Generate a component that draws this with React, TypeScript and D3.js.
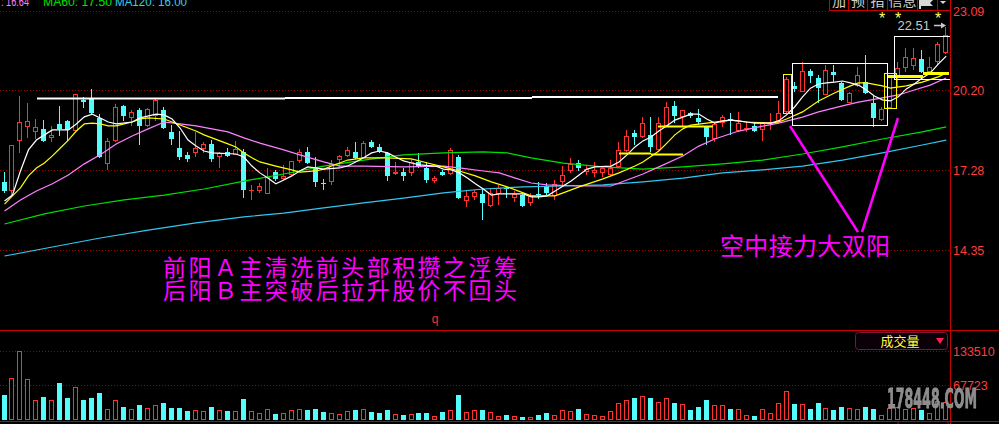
import React from 'react';
import * as d3 from 'd3';

// ---------- data ----------
const OPEN = [16.84,16.51,18.34,18.85,18.67,18.78,18.45,18.96,19.07,18.70,19.84,19.87,19.18,17.50,18.34,19.62,19.18,19.47,18.89,19.25,
19.47,18.67,18.08,17.83,17.90,18.04,18.23,17.75,17.94,17.83,17.94,16.51,16.51,16.40,17.20,16.95,17.09,17.61,17.94,17.39,
16.80,16.84,17.64,17.79,17.94,17.72,18.30,18.12,17.90,17.13,17.20,17.17,17.57,17.35,16.87,17.20,17.13,17.75,16.14,16.29,
16.40,15.96,16.40,16.62,16.25,16.36,16.07,16.40,16.69,16.33,16.84,17.24,17.53,17.20,17.17,17.17,17.09,17.39,17.97,18.63,
18.48,18.56,18.01,18.89,19.62,19.21,19.36,19.18,18.85,18.41,18.99,19.14,18.70,18.78,18.89,18.74,18.99,19.07,19.40,20.35,
20.13,20.90,20.64,20.02,20.86,20.46,19.73,20.35,20.49,19.73,19.10,19.54,20.64,21.01,21.08,21.33,20.86,21.23,21.55];
const HIGH = [17.20,18.20,19.98,19.73,19.14,19.10,18.89,19.62,19.10,20.07,19.95,20.24,19.32,18.45,19.69,19.64,19.47,19.54,19.54,19.87,
19.58,18.92,18.70,17.94,18.67,18.30,18.37,17.94,18.08,18.34,18.04,16.73,16.80,17.35,17.28,17.46,17.62,18.04,18.12,17.75,
16.95,17.64,17.83,18.12,18.30,18.34,18.37,18.23,17.94,17.57,17.35,17.68,17.90,17.57,17.06,17.28,18.08,17.83,16.51,16.55,
16.62,16.62,16.73,16.66,16.51,16.40,16.44,16.84,16.80,16.91,17.42,17.72,17.64,17.42,17.57,17.39,17.64,18.30,18.74,18.74,
19.21,19.21,19.21,19.76,19.80,19.47,19.40,19.51,18.89,19.03,19.29,19.36,19.40,19.03,19.03,19.03,19.36,19.80,20.68,20.49,
21.22,20.97,20.75,21.11,21.11,20.49,20.13,21.04,21.48,19.98,19.58,20.71,21.23,21.74,21.74,21.66,21.41,21.95,22.51];
const LOW = [16.44,16.36,17.90,18.45,18.41,18.30,18.30,18.52,18.34,18.67,19.54,19.34,17.72,17.28,18.30,19.07,18.89,18.19,18.85,19.07,
18.78,18.19,17.64,17.57,17.75,17.90,17.57,17.35,17.75,17.81,16.25,16.18,16.44,16.38,16.87,16.91,17.06,17.53,17.50,16.66,
16.55,16.73,17.39,17.75,17.68,17.70,18.08,17.90,16.87,17.09,16.87,17.06,17.35,16.80,16.80,17.06,17.09,16.22,15.92,16.18,
15.45,15.94,16.00,16.25,16.11,15.94,15.96,16.22,16.36,16.18,16.69,17.17,17.24,17.09,17.02,17.02,17.06,17.35,17.94,18.19,
18.45,17.94,17.97,18.85,18.99,18.85,19.18,18.92,18.19,18.30,18.85,18.56,18.67,18.67,18.67,18.34,18.74,18.99,19.36,20.13,
20.11,20.46,19.73,20.00,20.49,19.80,19.71,20.31,20.06,18.85,19.08,19.51,20.31,20.86,20.93,20.82,20.82,21.11,21.52];
const CLOSE = [16.51,18.19,19.03,19.07,18.85,18.34,18.56,18.78,18.74,20.06,19.76,19.36,17.75,18.34,19.58,19.25,19.40,18.89,19.51,19.84,
18.81,18.41,17.75,17.68,18.08,18.23,17.68,17.90,17.79,18.04,16.55,16.55,16.69,17.02,16.95,17.06,17.61,17.94,17.53,16.84,
16.77,17.50,17.79,18.01,17.72,18.26,18.12,17.94,17.06,17.20,17.06,17.57,17.39,16.91,16.98,17.09,18.01,16.25,16.33,16.47,
16.07,16.44,16.62,16.58,16.40,15.96,16.33,16.36,16.44,16.77,17.09,17.50,17.35,17.31,17.28,17.35,17.35,18.01,18.52,18.48,
19.00,18.12,19.00,19.58,19.25,19.47,19.25,19.03,18.48,18.96,19.21,19.10,18.99,18.81,18.70,18.99,19.03,19.36,20.60,20.24,
20.90,20.71,20.27,20.93,20.75,19.84,20.09,20.75,20.09,19.18,19.51,20.68,21.01,21.41,21.37,20.86,21.04,21.88,22.21];
const VOLUME = [48200,80800,133500,78900,39800,44300,37900,71600,42400,63200,38500,42400,52100,22300,37900,24800,22300,28700,24200,30100,
32600,22800,22800,17000,18900,18300,24800,20300,17000,18300,40400,18300,14400,22300,11100,14400,20300,22300,18900,20900,
15000,14400,12500,18300,18900,22300,15000,13100,18900,12500,9200,12500,13100,13100,8600,15000,18900,48200,15000,18900,
18900,15000,8600,9200,8600,6600,6600,9200,13100,10500,18900,17000,20900,12500,10500,8600,17000,32600,38500,42400,
45700,42400,34600,43700,32600,30600,18900,24800,38500,28700,28700,20900,22300,10500,7200,22300,13100,32600,56000,30600,
30600,20900,32600,24200,18900,24800,22800,20900,24800,20900,10500,22800,24800,20900,24200,18900,14400,36500,35100];

const MA5: [number, number][] = [[0,16.14],[1,16.36],[2,17.24],[3,18.01],[4,18.37],[5,18.56],[6,18.74],[8,18.74],[9,18.96],[10,19.22],[11,19.32],[12,19.18],[13,19.03],[14,18.96],[16,19.03],[17,19.18],[19,19.32],[20,19.29],[21,19.14],[22,18.81],[23,18.37],[24,18.15],[25,17.97],[26,17.90],[29,17.86],[30,17.75],[31,17.42],[32,17.17],[33,16.98],[34,16.77],[35,16.91],[36,17.06],[37,17.24],[38,17.39],[39,17.35],[40,17.31],[42,17.35],[43,17.42],[44,17.57],[45,17.72],[46,17.90],[47,17.97],[48,17.90],[49,17.75],[50,17.61],[51,17.53],[52,17.46],[54,17.42],[55,17.31],[56,17.28],[57,17.17],[58,16.98],[59,16.77],[60,16.58],[61,16.36],[62,16.40],[65,16.40],[66,16.29],[67,16.29],[68,16.33],[69,16.51],[70,16.69],[71,16.87],[72,17.09],[73,17.31],[74,17.39],[76,17.42],[77,17.57],[78,17.83],[79,18.12],[80,18.34],[81,18.48],[82,18.70],[83,18.89],[84,19.10],[85,19.21],[86,19.32],[87,19.32],[88,19.14],[89,18.99],[90,19.07],[91,19.10],[92,19.07],[93,19.03],[94,18.99],[96,18.99],[97,19.07],[98,19.29],[99,19.58],[100,19.95],[101,20.27],[102,20.42],[103,20.46],[104,20.49],[105,20.53],[106,20.46],[107,20.38],[108,20.20],[109,19.98],[110,19.84],[111,19.80],[112,19.95],[113,20.24],[114,20.42],[115,20.64],[116,20.82],[117,21.15],[118,21.44]];
const MA10: [number, number][] = [[0,16.03],[1,16.33],[2,16.62],[3,17.06],[4,17.35],[5,17.53],[6,17.79],[7,18.08],[8,18.37],[9,18.70],[10,18.96],[11,18.99],[12,18.96],[13,18.89],[14,18.89],[15,18.96],[16,19.03],[17,19.14],[18,19.18],[20,19.14],[21,19.03],[22,18.92],[23,18.81],[24,18.70],[25,18.56],[26,18.45],[27,18.34],[28,18.23],[29,18.12],[30,17.90],[31,17.72],[32,17.57],[34,17.42],[36,17.28],[37,17.20],[39,17.24],[40,17.31],[41,17.42],[42,17.53],[43,17.64],[45,17.72],[48,17.72],[51,17.68],[53,17.53],[55,17.39],[57,17.24],[59,17.06],[61,16.84],[63,16.66],[65,16.44],[66,16.33],[69,16.33],[70,16.44],[72,16.66],[75,16.95],[77,17.17],[79,17.42],[80,17.57],[82,17.97],[83,18.26],[84,18.56],[85,18.78],[86,18.92],[88,18.99],[91,19.10],[93,19.03],[96,18.99],[97,19.03],[98,19.14],[100,19.40],[102,19.80],[104,20.09],[106,20.35],[107,20.46],[108,20.46],[110,20.35],[111,20.27],[113,20.35],[115,20.49],[117,20.68],[118,20.82]];
const MA20: [number, number][] = [[0,15.78],[2,16.18],[4,16.51],[6,16.77],[8,17.09],[10,17.50],[12,17.83],[14,18.23],[16,18.52],[18,18.78],[20,19.03],[22,18.96],[24,18.89],[26,18.78],[28,18.67],[30,18.45],[32,18.26],[35,18.01],[37,17.83],[40,17.57],[42,17.42],[45,17.42],[50,17.39],[55,17.42],[57,17.35],[60,17.24],[62,17.17],[64,16.98],[66,16.80],[68,16.73],[72,16.69],[76,16.69],[77,16.80],[80,17.13],[82,17.39],[85,17.79],[87,18.15],[89,18.41],[92,18.70],[95,18.88],[97,18.99],[100,19.21],[102,19.40],[105,19.62],[107,19.76],[110,19.91],[112,20.02],[114,20.20],[116,20.38],[118,20.64]];
const MA60: [number, number][] = [[0,15.30],[5,15.67],[10,15.96],[15,16.18],[20,16.36],[25,16.58],[30,16.87],[35,17.13],[40,17.42],[45,17.64],[50,17.83],[55,17.90],[60,17.94],[63,17.90],[66,17.72],[70,17.53],[75,17.39],[80,17.31],[85,17.39],[90,17.50],[95,17.64],[100,17.86],[105,18.12],[110,18.41],[115,18.67],[118,18.85]];
const MA120: [number, number][] = [[0,14.13],[6,14.46],[12,14.79],[18,15.08],[24,15.34],[30,15.56],[35,15.70],[40,15.89],[45,16.07],[50,16.25],[55,16.44],[60,16.58],[65,16.66],[70,16.69],[75,16.73],[80,16.84],[85,16.98],[90,17.17],[95,17.28],[100,17.42],[105,17.64],[110,17.90],[115,18.19],[118,18.37]];

const PRICE_TICKS = [23.09, 20.20, 17.28, 14.35];
const VOLUME_TICKS = [133510, 67723];
const HEADER = [
  { text: ': 16.64', color: '#ff80ff' },
  { text: 'MA60: 17.50', color: '#00e000' },
  { text: 'MA120: 16.00', color: '#30d0f0' },
];
const BUTTONS = ['加', '预', '指', '信息', '', ''];
const NOTE_LINES = ['前阳Ａ主清洗前头部积攒之浮筹', '后阳Ｂ主突破后拉升股价不回头'];
const NOTE_RIGHT = '空中接力大双阳';
const LAST_HIGH_LABEL = '22.51';

const RED = '#ff3232';
const CYAN = '#54fcfc';
const AXIS = '#c80000';
const GRID = '#a00000';

export default function App() {
  const n = CLOSE.length;
  const x = d3.scaleLinear().domain([0, n - 1]).range([4.5, 946.2]);
  const y = d3.scaleLinear().domain([14.35, 23.09]).range([250, 11]);
  const v = d3.scaleLinear().domain([0, 133510]).range([420, 351.3]);
  const line = d3.line<[number, number]>().x(d => x(d[0])).y(d => y(d[1]));

  const candles = CLOSE.map((c, i) => ({ i, o: OPEN[i], h: HIGH[i], l: LOW[i], c, vol: VOLUME[i] }));
  const numFont = '"Liberation Sans", Arial, sans-serif';
  const cjk = '"Noto Sans CJK SC", sans-serif';
  const btnEdges = [829, 848, 867, 887, 917, 937, 950];
  const headerX = [1, 43, 115];
  const headerW = [28, 69, 72];

  return (
    <svg width={999} height={424} style={{ position: 'absolute', left: 0, top: 0, display: 'block', background: '#000' }}>
      <rect x={0} y={0} width={999} height={424} fill="#000" />
      <defs>
        <clipPath id="pricePane"><rect x={0} y={0} width={950} height={330} /></clipPath>
        <filter id="wm" x="-5%" y="-20%" width="110%" height="140%"><feGaussianBlur stdDeviation="0.6" /></filter>
      </defs>

      {/* grid lines */}
      {PRICE_TICKS.map((t, k) => (
        <line key={'g' + t} x1={0} x2={k === 0 ? 829 : 950} y1={Math.round(y(t)) + 0.5} y2={Math.round(y(t)) + 0.5}
          stroke={GRID} strokeDasharray="1 2" />
      ))}
      {VOLUME_TICKS.map(t => (
        <line key={'vg' + t} x1={0} x2={950} y1={Math.round(v(t)) + 0.5} y2={Math.round(v(t)) + 0.5}
          stroke={GRID} strokeDasharray="1 2" />
      ))}

      {/* candles */}
      <g clipPath="url(#pricePane)">
        {candles.map(d => {
          const left = Math.floor(x(d.i) - 2.5);
          const wx = left + 2.5;
          const up = d.c >= d.o;
          const yTop = Math.round(y(Math.max(d.o, d.c)));
          const yBot = Math.round(y(Math.min(d.o, d.c)));
          const yH = Math.round(y(d.h));
          const yL = Math.round(y(d.l));
          if (up) {
            return (
              <g key={d.i}>
                {yH < yTop && <line x1={wx} x2={wx} y1={yH} y2={yTop} stroke={RED} />}
                {yL > yBot && <line x1={wx} x2={wx} y1={yBot} y2={yL} stroke={RED} />}
                {yBot - yTop >= 2
                  ? <rect x={left + 0.5} y={yTop + 0.5} width={4} height={yBot - yTop - 1} fill="#000" stroke={RED} />
                  : <line x1={left} x2={left + 5} y1={yTop + 0.5} y2={yTop + 0.5} stroke={RED} />}
              </g>
            );
          }
          return (
            <g key={d.i}>
              <line x1={wx} x2={wx} y1={yH} y2={yL} stroke={CYAN} />
              <rect x={left} y={yTop} width={5} height={Math.max(1, yBot - yTop)} fill={CYAN} />
            </g>
          );
        })}

        {/* moving averages */}
        <path d={line(MA120) || ''} fill="none" stroke="#30c8f0" strokeWidth={1.2} />
        <path d={line(MA60) || ''} fill="none" stroke="#00e000" strokeWidth={1.2} />
        <path d={line(MA20) || ''} fill="none" stroke="#ff80ff" strokeWidth={1.2} />
        <path d={line(MA10) || ''} fill="none" stroke="#ffff00" strokeWidth={1.2} />
        <path d={line(MA5) || ''} fill="none" stroke="#ffffff" strokeWidth={1.2} />
      </g>

      {/* volume bars */}
      {candles.map(d => {
        const left = Math.floor(x(d.i) - 2.5);
        const top = Math.round(v(d.vol));
        const up = d.c >= d.o;
        return up
          ? <rect key={'v' + d.i} x={left + 0.5} y={top + 0.5} width={4} height={Math.max(0, 420 - top - 1)} fill="#000" stroke={RED} />
          : <rect key={'v' + d.i} x={left} y={top} width={5} height={420 - top} fill={CYAN} />;
      })}

      {/* resistance line */}
      <line x1={37} x2={285} y1={98.5} y2={98.5} stroke="#fff" strokeWidth={2} />
      <line x1={285} x2={532} y1={98} y2={98} stroke="#fff" strokeWidth={2} />
      <line x1={532} x2={778} y1={97} y2={97} stroke="#fff" strokeWidth={2} />

      {/* yellow support marks */}
      <line x1={619} x2={651} y1={153.5} y2={153.5} stroke="#ffff00" strokeWidth={2} />
      <line x1={651} x2={683} y1={154.5} y2={154.5} stroke="#ffff00" strokeWidth={2} />
      <line x1={658} x2={713} y1={126.5} y2={126.5} stroke="#ffff00" strokeWidth={2} />
      <line x1={888} x2={923} y1={76.5} y2={76.5} stroke="#ffff00" strokeWidth={3} />
      <line x1={923} x2={949} y1={73.5} y2={73.5} stroke="#ffff00" strokeWidth={3} />

      {/* boxes */}
      <rect x={792.5} y={63.5} width={95} height={62} fill="none" stroke="#fff" />
      <rect x={894.5} y={36.5} width={56} height={43} fill="none" stroke="#fff" />
      <rect x={783.5} y={74.5} width={8} height={39} fill="none" stroke="#ffff00" />
      <rect x={884.5} y={73.5} width={12} height={35} fill="none" stroke="#ffff00" />

      {/* magenta pointers */}
      <line x1={790} y1={126} x2={858} y2={232} stroke="#ff00ff" strokeWidth={2.5} />
      <line x1={898} y1={118} x2={862} y2={232} stroke="#ff00ff" strokeWidth={2.5} />

      {/* annotation texts */}
      {NOTE_LINES.map((t, k) => (
        <text key={t} x={163} y={276 + k * 23} fontFamily={cjk} fontSize={23} fill="#ff00ff"
          textLength={354} lengthAdjust="spacing">{t}</text>
      ))}
      <text x={720} y={255} fontFamily={cjk} fontSize={24} fill="#ff00ff" textLength={170} lengthAdjust="spacing">{NOTE_RIGHT}</text>
      <text x={435} y={323} fontFamily={numFont} fontSize={12} fill={RED} textAnchor="middle">q</text>

      {/* last high label */}
      <text x={930} y={30} fontFamily={numFont} fontSize={13} fill="#c8c8c8" textAnchor="end">{LAST_HIGH_LABEL}</text>
      <line x1={934} x2={944} y1={25.5} y2={25.5} stroke="#c8c8c8" strokeWidth={1.5} />
      <path d="M941,22.5 L946,25.5 L941,28.5 Z" fill="#c8c8c8" />
      {[882, 898, 938].map(px => (
        <text key={px} x={px} y={24} fontFamily={numFont} fontSize={16} fill="#ffff60" textAnchor="middle">*</text>
      ))}

      {/* header */}
      {HEADER.map((h, k) => (
        <text key={h.text} x={headerX[k]} y={5.5} fontFamily={numFont} fontSize={13} fill={h.color}
          textLength={headerW[k]} lengthAdjust="spacingAndGlyphs">{h.text}</text>
      ))}

      {/* top-right buttons */}
      {BUTTONS.map((b, k) => {
        const x0 = btnEdges[k], x1 = btnEdges[k + 1];
        return (
          <g key={k}>
            <rect x={x0 + 0.5} y={-1} width={x1 - x0} height={11.5} fill="#000" stroke={AXIS} />
            {b && <text x={(x0 + x1) / 2 + 0.5} y={6} fontFamily={cjk} fontSize={14} fill="#d0d0d0" textAnchor="middle">{b}</text>}
          </g>
        );
      })}
      <path d="M919,0 L933,0 L930,3 L933,6 L921,6 L921,9 L919,9 Z" fill="#d8d8d8" />
      <path d="M940,1 L946,1 L943,4 Z" fill="#d8d8d8" />

      {/* axes frame */}
      <line x1={950.5} x2={950.5} y1={0} y2={424} stroke={AXIS} />
      <line x1={0} x2={999} y1={330.5} y2={330.5} stroke={AXIS} />
      <line x1={0} x2={999} y1={421.5} y2={421.5} stroke={AXIS} />

      {/* axis labels */}
      {PRICE_TICKS.map(t => (
        <text key={'pl' + t} x={953} y={Math.round(y(t)) + 4.5} fontFamily={numFont} fontSize={12.5} fill="#ff3c3c">{t.toFixed(2)}</text>
      ))}
      {VOLUME_TICKS.map(t => (
        <text key={'vl' + t} x={953} y={Math.round(v(t)) + 4.5} fontFamily={numFont} fontSize={12.5} fill="#ff3c3c">{t}</text>
      ))}

      {/* volume indicator selector */}
      <rect x={855.5} y={332.5} width={92} height={17} rx={3} fill="#0c0008" stroke="#801040" />
      <text x={900} y={346} fontFamily={cjk} fontSize={13} fill="#ffff40" textAnchor="middle">成交量</text>
      <path d="M936,338 L944,338 L940,344 Z" fill="#ff2050" />
      <rect x={897.5} y={421.5} width={51} height={8} rx={3} fill="#0c0008" stroke="#801040" />

      {/* watermark */}
      <text x={887} y={408} fontFamily='"DejaVu Sans", sans-serif' fontWeight="bold" fontSize={26} fill="#8c8c8c"
        stroke="#9a9a9a" strokeWidth={0.8} textLength={90} lengthAdjust="spacingAndGlyphs" filter="url(#wm)">178448.COM</text>
    </svg>
  );
}
